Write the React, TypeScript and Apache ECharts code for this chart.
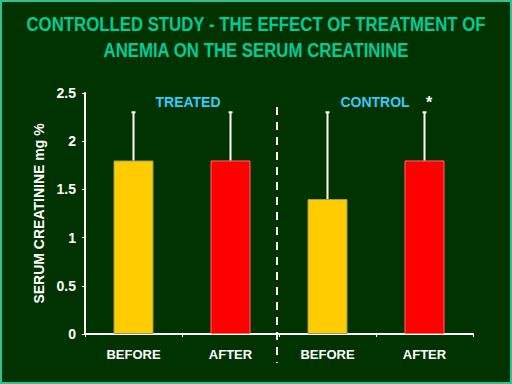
import React, { useEffect, useRef } from "react";
import * as echarts from "echarts";

const categories = ["BEFORE", "AFTER", "BEFORE", "AFTER"];
const meanValues = [1.8, 1.8, 1.4, 1.8];
const errorTops = [2.3, 2.3, 2.3, 2.3];
const barColors = ["#FFCC00", "#FF0000", "#FFCC00", "#FF0000"];
const yTicks = [0, 0.5, 1, 1.5, 2, 2.5];
const titleLines = ["CONTROLLED STUDY - THE EFFECT OF TREATMENT OF", "ANEMIA ON THE SERUM CREATININE"];
const groupLabels = ["TREATED", "CONTROL"];

export default function App() {
  const ref = useRef<HTMLDivElement>(null);
  useEffect(() => {
    const chart = echarts.init(ref.current!, null, { renderer: "svg" });
    const font = "'Liberation Sans', Arial, sans-serif";
    const titleStyle = (t: string) => ({
      text: t,
      fill: "#00CC99",
      font: "bold 21px " + font,
      textAlign: "center",
      textVerticalAlign: "middle",
    });
    chart.setOption({
      animation: false,
      backgroundColor: "#003300",
      grid: { left: 85, right: 39, top: 93, bottom: 50 },
      xAxis: {
        type: "category",
        data: categories,
        axisLine: { lineStyle: { color: "#FFFFFF", width: 2 } },
        axisTick: { show: true, alignWithLabel: false, length: 3, lineStyle: { color: "#FFFFFF" } },
        axisLabel: { color: "#FFFFFF", fontWeight: "bold", fontSize: 13, fontFamily: font, margin: 14 },
      },
      yAxis: {
        type: "value",
        min: 0,
        max: 2.5,
        interval: 0.5,
        name: "SERUM CREATININE mg %",
        nameLocation: "middle",
        nameGap: 37,
        nameRotate: 90,
        nameTextStyle: { color: "#FFFFFF", fontWeight: "bold", fontSize: 14, fontFamily: font },
        axisLine: { show: true, lineStyle: { color: "#FFFFFF", width: 2 } },
        axisTick: { show: true, length: 3, lineStyle: { color: "#FFFFFF" } },
        axisLabel: {
          color: "#FFFFFF",
          fontWeight: "bold",
          fontSize: 14,
          fontFamily: font,
          margin: 9,
          formatter: (v: number) => (yTicks.includes(v) ? String(v) : ""),
        },
        splitLine: { show: false },
      },
      series: [
        {
          type: "bar",
          data: meanValues.map((v, i) => ({
            value: v,
            itemStyle: { color: barColors[i], borderColor: i % 2 === 0 ? "#999966" : "#FF6666", borderWidth: 1 },
          })),
          barWidth: 40,
          z: 2,
        },
        {
          type: "custom",
          z: 3,
          data: errorTops.map((t, i) => [i, meanValues[i], t]),
          renderItem: (params: any, api: any) => {
            const x = api.value(0);
            const lo = api.coord([x, api.value(1)]);
            const hi = api.coord([x, api.value(2)]);
            return {
              type: "group",
              children: [
                { type: "line", shape: { x1: lo[0], y1: lo[1], x2: hi[0], y2: hi[1] }, style: { stroke: "#FFFFFF", lineWidth: 2 } },
                { type: "line", shape: { x1: hi[0] - 2, y1: hi[1], x2: hi[0] + 2, y2: hi[1] }, style: { stroke: "#FFFFFF", lineWidth: 2 } },
              ],
            };
          },
        },
      ],
      graphic: [
        {
          type: "rect",
          shape: { x: 1, y: 1, width: 510, height: 382 },
          style: { fill: "none", stroke: "#2FC093", lineWidth: 2 },
          silent: true,
        },
        { type: "text", x: 256, y: 24, scaleX: 0.8, style: titleStyle(titleLines[0]) },
        { type: "text", x: 256, y: 50, scaleX: 0.8, style: titleStyle(titleLines[1]) },
        {
          type: "line",
          shape: { x1: 277, y1: 107, x2: 277, y2: 363 },
          style: { stroke: "#FFFFFF", lineWidth: 2, lineDash: [8, 7] },
        },
        {
          type: "text",
          x: 188,
          y: 102,
          style: { text: groupLabels[0], fill: "#33CCFF", font: "bold 14px " + font, textAlign: "center", textVerticalAlign: "middle" },
        },
        {
          type: "text",
          x: 375,
          y: 102,
          style: { text: groupLabels[1], fill: "#33CCFF", font: "bold 14px " + font, textAlign: "center", textVerticalAlign: "middle" },
        },
        {
          type: "text",
          x: 429,
          y: 102,
          style: { text: "*", fill: "#FFFFFF", font: "bold 16px " + font, textAlign: "center", textVerticalAlign: "middle" },
        },
      ],
    });
    return () => chart.dispose();
  }, []);
  return <div ref={ref} style={{ position: "fixed", left: 0, top: 0, width: 512, height: 384 }} />;
}
